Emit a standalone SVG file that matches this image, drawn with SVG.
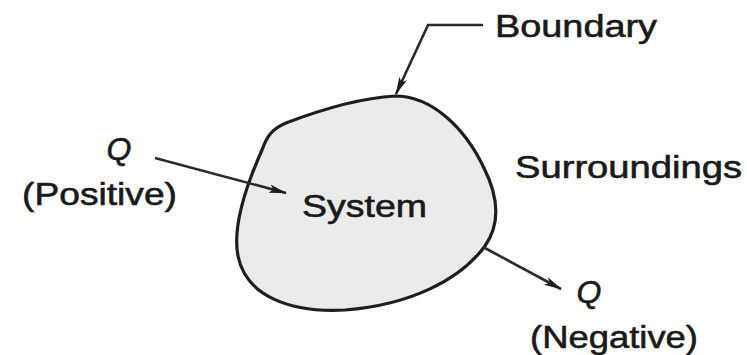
<svg xmlns="http://www.w3.org/2000/svg" width="747" height="355" viewBox="0 0 747 355">
  <style>
    .lbl { font-family: "Liberation Sans", Arial, sans-serif; font-size: 32px; fill: #1a1a1a; stroke: #1a1a1a; stroke-width: 0.6px; }
    .q { font-style: italic; }
    .conn { fill: none; stroke: #2a2a2a; stroke-width: 2.6; }
    .blob { fill: #ebebeb; stroke: #1e1e1e; stroke-width: 3.2; stroke-linejoin: round; }
  </style>
  <defs>
    <marker id="arrow" viewBox="0 0 18 10" refX="17" refY="5" markerWidth="18" markerHeight="10" markerUnits="userSpaceOnUse" orient="auto">
      <path d="M0,0.8 L18,5 L0,9.2 L4,5 Z" fill="#1e1e1e"/>
    </marker>
  </defs>
  <rect width="747" height="355" fill="#ffffff"/>

  <g id="system">
    <path class="blob" d="M 395 96 C 432 96, 465 128, 484 168 C 500 200, 499 226, 485 246 C 460 280, 410 305, 345 310 C 290 313, 246 296, 238 256 C 232 226, 246 186, 262 150 C 267 136, 272 129, 286 123 C 320 110, 360 98, 395 96 Z"/>
    <text class="lbl" x="302" y="217" font-size="34" textLength="125" lengthAdjust="spacingAndGlyphs">System</text>
  </g>

  <g id="boundary">
    <text class="lbl" x="495" y="37" font-size="34" textLength="162" lengthAdjust="spacingAndGlyphs">Boundary</text>
  </g>

  <g id="surroundings">
    <text class="lbl" x="515" y="178" font-size="34" textLength="227" lengthAdjust="spacingAndGlyphs">Surroundings</text>
  </g>

  <g id="heat-in">
    <text class="lbl q" x="119" y="160" text-anchor="middle">Q</text>
    <text class="lbl" x="22" y="205" textLength="155" lengthAdjust="spacingAndGlyphs">(Positive)</text>
  </g>

  <g id="heat-out">
    <text class="lbl q" x="589" y="303" text-anchor="middle">Q</text>
    <text class="lbl" x="530" y="348" textLength="168" lengthAdjust="spacingAndGlyphs">(Negative)</text>
  </g>

  <g id="connectors">
    <path class="conn" d="M 483 25 L 428 25 L 396 94" marker-end="url(#arrow)"/>
    <path class="conn" d="M 155 158 L 286 193" marker-end="url(#arrow)"/>
    <path class="conn" d="M 483 247 L 561 289" marker-end="url(#arrow)"/>
  </g>
</svg>
